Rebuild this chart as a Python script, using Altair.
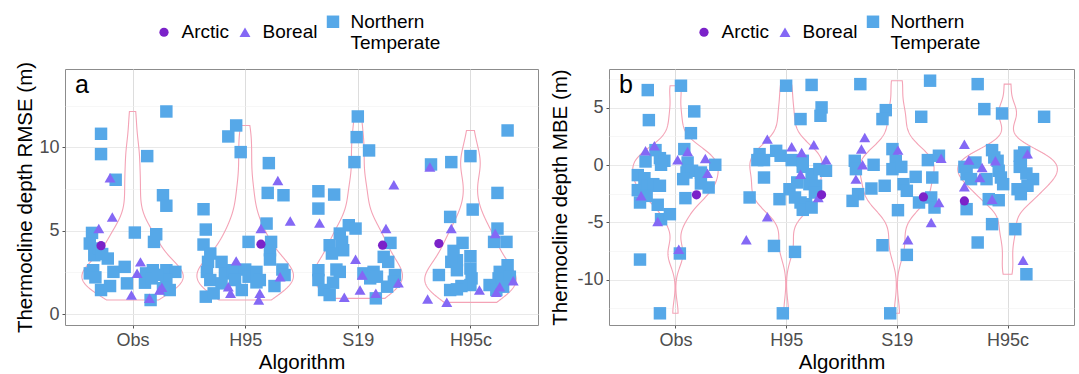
import json
import altair as alt
import pandas as pd

ALGS = ["Obs", "H95", "S19", "H95c"]
GROUPS = ["Arctic", "Boreal", "Northern Temperate"]
COLORS = ["#7B22C9", "#8468F5", "#56A8E8"]
SHAPES = ["circle", "triangle-up", "square"]
SIZES = [85, 155, 100]

# ---- panel a: thermocline depth RMSE (m); pairs are (jitter offset, value)
RMSE_OBS_NT = [(0.30, 12.16), (-0.28, 10.82), (-0.28, 9.6), (0.13, 9.48), (-0.15, 8.06), (0.27, 7.13),
               (0.30, 6.5), (0.02, 4.89), (0.21, 4.79), (0.19, 4.33), (-0.36, 4.87), (-0.38, 4.23),
               (-0.34, 3.53), (-0.30, 3.93), (-0.22, 3.33), (-0.38, 2.44), (-0.35, 2.63), (-0.17, 2.53),
               (-0.07, 2.83), (-0.28, 1.44), (-0.20, 1.68), (-0.05, 1.84), (0.11, 1.88), (0.12, 2.44),
               (0.18, 2.63), (0.17, 2.14), (0.30, 2.63), (0.38, 2.53), (0.30, 2.04), (0.33, 1.44),
               (0.16, 0.84), (-0.33, 2.2), (-0.27, 3.6), (0.22, 2.35), (0.27, 1.55)]
RMSE_OBS_B = [(-0.2, 8.18), (-0.18, 5.83), (-0.3, 5.13), (0.07, 3.13), (0.04, 2.44), (-0.01, 1.14),
              (0.15, 0.94), (0.24, 1.44), (0.26, 1.6)]
RMSE_OBS_A = [(-0.28, 4.1)]

RMSE_H95_NT = [(-0.08, 11.32), (-0.15, 10.66), (-0.04, 9.72), (0.21, 9.06), (0.2, 7.27), (0.34, 7.13),
               (-0.37, 6.29), (-0.35, 5.07), (0.19, 5.43), (-0.37, 4.17), (0.03, 4.33), (0.23, 4.33),
               (0.22, 3.83), (0.22, 3.27), (-0.31, 3.63), (-0.33, 3.13), (-0.21, 3.13), (-0.34, 2.53),
               (-0.31, 2.04), (-0.18, 2.44), (-0.11, 2.63), (0.0, 2.67), (0.03, 2.24), (0.1, 2.53),
               (-0.21, 1.84), (-0.09, 2.04), (0.13, 2.04), (0.26, 1.68), (0.33, 2.67), (0.35, 2.34),
               (-0.35, 1.04), (-0.28, 1.24), (-0.03, 1.44), (0.1, 1.9)]
RMSE_H95_B = [(0.29, 8.02), (0.4, 5.59), (0.14, 5.13), (-0.08, 3.19), (-0.15, 1.64), (-0.13, 1.24),
              (0.13, 1.24), (0.12, 0.84), (0.31, 2.24)]
RMSE_H95_A = [(0.14, 4.19)]

RMSE_S19_NT = [(0.0, 11.86), (-0.01, 10.62), (0.1, 9.82), (-0.03, 9.12), (-0.35, 7.37), (-0.21, 7.17),
               (-0.35, 6.33), (-0.08, 5.33), (-0.02, 5.13), (-0.16, 4.83), (-0.14, 4.33), (-0.13, 3.83),
               (-0.25, 4.13), (-0.23, 3.63), (0.29, 4.27), (0.23, 3.43), (0.27, 3.13), (-0.35, 2.63),
               (-0.19, 2.67), (-0.16, 2.53), (-0.35, 2.04), (-0.22, 1.88), (-0.3, 1.44), (-0.25, 1.14),
               (0.05, 2.44), (0.14, 2.53), (0.11, 2.14), (0.17, 2.24), (0.33, 2.34), (0.32, 1.94),
               (0.26, 1.64), (0.16, 0.94)]
RMSE_S19_B = [(0.32, 7.76), (-0.34, 5.47), (0.25, 5.13), (-0.02, 3.29), (0.04, 2.34), (0.02, 1.44),
              (-0.12, 1.0), (0.16, 1.24), (0.36, 1.88)]
RMSE_S19_A = [(0.22, 4.13)]

RMSE_H95C_NT = [(0.33, 11.02), (-0.35, 8.98), (-0.17, 9.12), (0.0, 9.48), (0.24, 7.27), (0.02, 6.27),
                (-0.18, 5.83), (0.24, 5.13), (0.21, 4.33), (0.32, 4.33), (-0.07, 4.27), (-0.15, 3.79),
                (-0.12, 3.23), (0.0, 3.47), (-0.17, 3.13), (0.0, 2.73), (-0.12, 2.63), (-0.28, 2.34),
                (0.01, 2.14), (0.0, 1.74), (-0.08, 1.68), (-0.18, 1.44), (-0.12, 1.48), (0.33, 2.93),
                (0.26, 2.53), (0.25, 2.14), (0.35, 2.24), (0.17, 1.74), (0.23, 1.44), (0.29, 1.64)]
RMSE_H95C_B = [(-0.36, 8.82), (-0.17, 5.13), (0.22, 4.83), (-0.38, 0.9), (-0.21, 0.7), (0.08, 1.44),
               (0.23, 1.3), (0.38, 2.0), (0.26, 1.64)]
RMSE_H95C_A = [(-0.28, 4.23)]

# ---- panel b: thermocline depth MBE (m)
MBE_OBS_NT = [(0.05, 6.93), (-0.25, 6.55), (-0.24, 3.93), (0.17, 4.69), (0.14, 2.79), (0.08, 1.4),
              (-0.27, 0.32), (-0.18, 1.31), (-0.14, 0.61), (-0.1, 0.38), (-0.13, 0.03), (0.11, 0.23),
              (0.1, -0.64), (0.15, -0.49), (0.23, -0.64), (0.36, 0.03), (0.3, -1.95), (0.23, -1.6),
              (-0.34, -0.87), (-0.34, -2.18), (-0.32, -3.26), (-0.28, -1.14), (-0.25, -1.8), (-0.2, -1.66),
              (-0.14, -1.8), (-0.26, -2.68), (-0.16, -3.46), (-0.13, -4.72), (-0.05, -4.28), (0.07, -1.22),
              (0.09, -2.88), (0.04, -7.71), (-0.32, -8.24), (-0.14, -12.93)]
MBE_OBS_B = [(-0.19, 1.69), (-0.27, 1.25), (0.02, 0.47), (0.11, 1.19), (0.27, 0.58), (0.29, -0.7),
             (-0.31, -2.68), (-0.16, -4.92), (0.03, -7.34)]
MBE_OBS_A = [(0.19, -2.59)]

MBE_H95_NT = [(0.0, 6.93), (0.23, 7.0), (0.32, 5.04), (0.31, 4.31), (0.13, 4.02), (-0.09, 1.25),
              (-0.24, 0.96), (-0.26, 0.44), (-0.2, 0.44), (-0.2, -1.08), (-0.33, -2.82), (-0.05, 0.82),
              (0.05, 0.44), (0.15, 0.38), (0.15, -0.15), (0.23, -0.79), (0.3, -0.35), (0.36, -0.49),
              (0.21, -1.66), (0.27, -1.8), (0.26, -2.39), (0.03, -2.1), (0.1, -1.51), (0.08, -2.82),
              (0.13, -3.26), (0.18, -3.41), (0.15, -3.9), (0.23, -3.7), (-0.06, -2.97), (-0.11, -7.05),
              (0.08, -7.57), (-0.03, -12.93)]
MBE_H95_B = [(-0.17, 2.27), (0.05, 1.6), (0.14, 1.11), (0.25, 1.78), (0.36, 0.47), (0.13, -0.79),
             (-0.17, -4.51), (-0.36, -6.52), (0.29, -2.82)]
MBE_H95_A = [(0.32, -2.59)]

MBE_S19_NT = [(-0.33, 7.07), (0.3, 7.37), (-0.1, 4.8), (-0.13, 4.02), (0.22, 4.22), (-0.04, 1.4),
              (-0.38, 0.38), (-0.37, -0.35), (-0.21, 0.03), (-0.01, 0.38), (-0.04, -0.35), (0.04, -0.15),
              (0.17, -1.02), (0.28, 0.44), (0.38, 0.82), (0.32, -1.08), (0.06, -1.66), (0.09, -2.24),
              (-0.11, -1.8), (-0.23, -2.04), (-0.35, -2.53), (-0.4, -3.12), (0.01, -3.93), (0.2, -3.26),
              (0.31, -2.82), (0.34, -3.7), (-0.13, -6.99), (0.09, -7.83), (-0.06, -12.93)]
MBE_S19_B = [(-0.29, 2.42), (-0.32, 1.4), (0.01, 1.31), (-0.31, 0.03), (-0.37, -1.22), (0.38, -3.26),
             (0.31, -5.01), (0.1, -6.52), (0.4, 0.6)]
MBE_S19_A = [(0.24, -2.77)]

MBE_H95C_NT = [(-0.27, 7.07), (-0.21, 4.89), (-0.05, 4.51), (0.33, 4.22), (-0.14, 1.31), (-0.12, 0.67),
               (-0.09, 0.38), (-0.39, -0.15), (-0.37, -0.79), (-0.33, -1.22), (-0.29, 0.23), (-0.19, -1.22),
               (-0.08, -0.49), (-0.06, -1.08), (-0.04, -1.66), (-0.17, -2.97), (-0.08, -3.06), (-0.37, -3.84),
               (-0.14, -5.15), (-0.27, -6.75), (0.11, 0.82), (0.15, 1.11), (0.12, 0.23), (0.11, -0.15),
               (0.17, -0.73), (0.23, -1.22), (0.18, -1.8), (0.09, -2.1), (0.12, -2.53), (0.07, -5.59),
               (0.17, -9.52)]
MBE_H95C_B = [(-0.39, 1.83), (-0.35, 0.44), (-0.23, -0.2), (-0.25, -1.08), (-0.39, -1.89), (-0.14, -2.97),
              (-0.11, 0.38), (0.14, -8.3), (0.18, 1.0)]
MBE_H95C_A = [(-0.39, -3.12)]

RMSE_TICKS = [0, 2.5, 5, 7.5, 10, 12.5]
MBE_TICKS = [-12.5, -10, -7.5, -5, -2.5, 0, 2.5, 5, 7.5]

FONT = "Liberation Sans"


def build(sets):
    rows = []
    # draw order: Northern Temperate, then Boreal, then Arctic on top
    for gi in (2, 1, 0):
        for ai, alg in enumerate(ALGS):
            for jit, val in sets[alg][gi]:
                rows.append({"alg": alg, "idx": ai + 1, "group": GROUPS[gi], "jit": jit, "value": val})
    return pd.DataFrame(rows)


df_a = build({
    "Obs": (RMSE_OBS_A, RMSE_OBS_B, RMSE_OBS_NT),
    "H95": (RMSE_H95_A, RMSE_H95_B, RMSE_H95_NT),
    "S19": (RMSE_S19_A, RMSE_S19_B, RMSE_S19_NT),
    "H95c": (RMSE_H95C_A, RMSE_H95C_B, RMSE_H95C_NT),
})
df_b = build({
    "Obs": (MBE_OBS_A, MBE_OBS_B, MBE_OBS_NT),
    "H95": (MBE_H95_A, MBE_H95_B, MBE_H95_NT),
    "S19": (MBE_S19_A, MBE_S19_B, MBE_S19_NT),
    "H95c": (MBE_H95C_A, MBE_H95C_B, MBE_H95C_NT),
})

LEG_W = 294


def panel(df, W, H, ydom, yticks, ytitle, tag, yext, ytpad):
    xscale = alt.Scale(domain=[0.4, 4.6], nice=False, zero=False)
    yscale = alt.Scale(domain=ydom, nice=False, zero=False)
    xaxis = alt.Axis(values=[1, 2, 3, 4], labelExpr=json.dumps(ALGS) + "[datum.value - 1]",
                     title="Algorithm", grid=True, labelPadding=3, titlePadding=3)
    minor = "datum.value % 5 != 0"
    yaxis = alt.Axis(values=yticks, title=ytitle, grid=True,
                     labelExpr="datum.value % 5 == 0 ? '' + datum.value : ''",
                     tickOpacity={"condition": {"test": minor, "value": 0}, "value": 1},
                     gridWidth={"condition": {"test": minor, "value": 0.6}, "value": 1},
                     gridColor={"condition": {"test": minor, "value": "#F1F1F1"}, "value": "#E9E9E9"},
                     minExtent=yext, maxExtent=yext, titlePadding=ytpad, labelPadding=3)
    legend = alt.Legend(title=None, orient="none", legendX=(W - LEG_W) / 2, legendY=-57,
                        direction="horizontal", labelFontSize=19, labelColor="black", labelFont=FONT,
                        labelOffset=8, columnPadding=6, padding=0, symbolStrokeWidth=0,
                        symbolOpacity=1, labelLimit=300,
                        labelExpr="datum.label == 'Northern Temperate' ? ['Northern', 'Temperate'] : datum.label")
    base = alt.Chart(df)
    violin = base.transform_joinaggregate(
        sd="stdev(value)", q1="q1(value)", q3="q3(value)", n="count()", groupby=["idx"]
    ).transform_calculate(
        bw="0.9 * min(datum.sd, (datum.q3 - datum.q1) / 1.34) * pow(datum.n, -0.2)"
    ).transform_calculate(
        z="datum.value / datum.bw"
    ).transform_density(
        "z", groupby=["idx", "bw"], bandwidth=1, steps=300, resolve="independent", as_=["zz", "dz"]
    ).transform_calculate(
        v="datum.zz * datum.bw", d="datum.dz / datum.bw"
    ).transform_joinaggregate(
        dmax="max(d)"
    ).transform_calculate(
        xl="datum.idx - 0.45 * datum.d / datum.dmax", xr="datum.idx + 0.45 * datum.d / datum.dmax"
    ).mark_area(orient="horizontal", fillOpacity=0, stroke="#F4A3B6", strokeWidth=1.1).encode(
        y=alt.Y("v:Q", scale=yscale, axis=yaxis),
        x=alt.X("xl:Q", scale=xscale, axis=xaxis),
        x2="xr:Q",
        detail="idx:N",
    )
    points = base.transform_calculate(xj="datum.idx + datum.jit").mark_point(
        filled=True, opacity=1, strokeWidth=0
    ).encode(
        x=alt.X("xj:Q", scale=xscale, axis=xaxis),
        y=alt.Y("value:Q", scale=yscale, axis=yaxis),
        color=alt.Color("group:N", scale=alt.Scale(domain=GROUPS, range=COLORS), legend=legend),
        shape=alt.Shape("group:N", scale=alt.Scale(domain=GROUPS, range=SHAPES), legend=legend),
        size=alt.Size("group:N", scale=alt.Scale(domain=GROUPS, range=SIZES), legend=legend),
    )
    label = alt.Chart(pd.DataFrame({"t": [tag]})).mark_text(
        align="left", baseline="alphabetic", fontSize=25, font=FONT, color="black"
    ).encode(text="t:N", x=alt.value(10), y=alt.value(24))
    return alt.layer(violin, points, label).properties(width=W, height=H)


pa = panel(df_a, 473, 256, [-0.66, 14.71], RMSE_TICKS, "Thermocline depth RMSE (m)", "a", 26, 4)
pb = panel(df_b, 465, 256, [-13.95, 8.39], MBE_TICKS, "Thermocline depth MBE (m)", "b", 32, 7)

chart = alt.hconcat(pa, pb, spacing=10).resolve_scale(
    x="independent", y="independent", color="independent", shape="independent", size="independent"
).resolve_legend(
    color="independent", shape="independent", size="independent"
).configure_view(
    stroke="#8C8C8C", strokeWidth=1
).configure_axis(
    labelFont=FONT, titleFont=FONT, labelFontSize=18, titleFontSize=20.5, titleFontWeight="normal",
    labelColor="#4D4D4D", titleColor="black", tickColor="#555555", tickSize=3, domain=False,
).properties(
    padding={"left": 14, "top": 11, "right": 0, "bottom": 0}
)

chart.save("out.html", embed_options={"renderer": "svg", "actions": False})
